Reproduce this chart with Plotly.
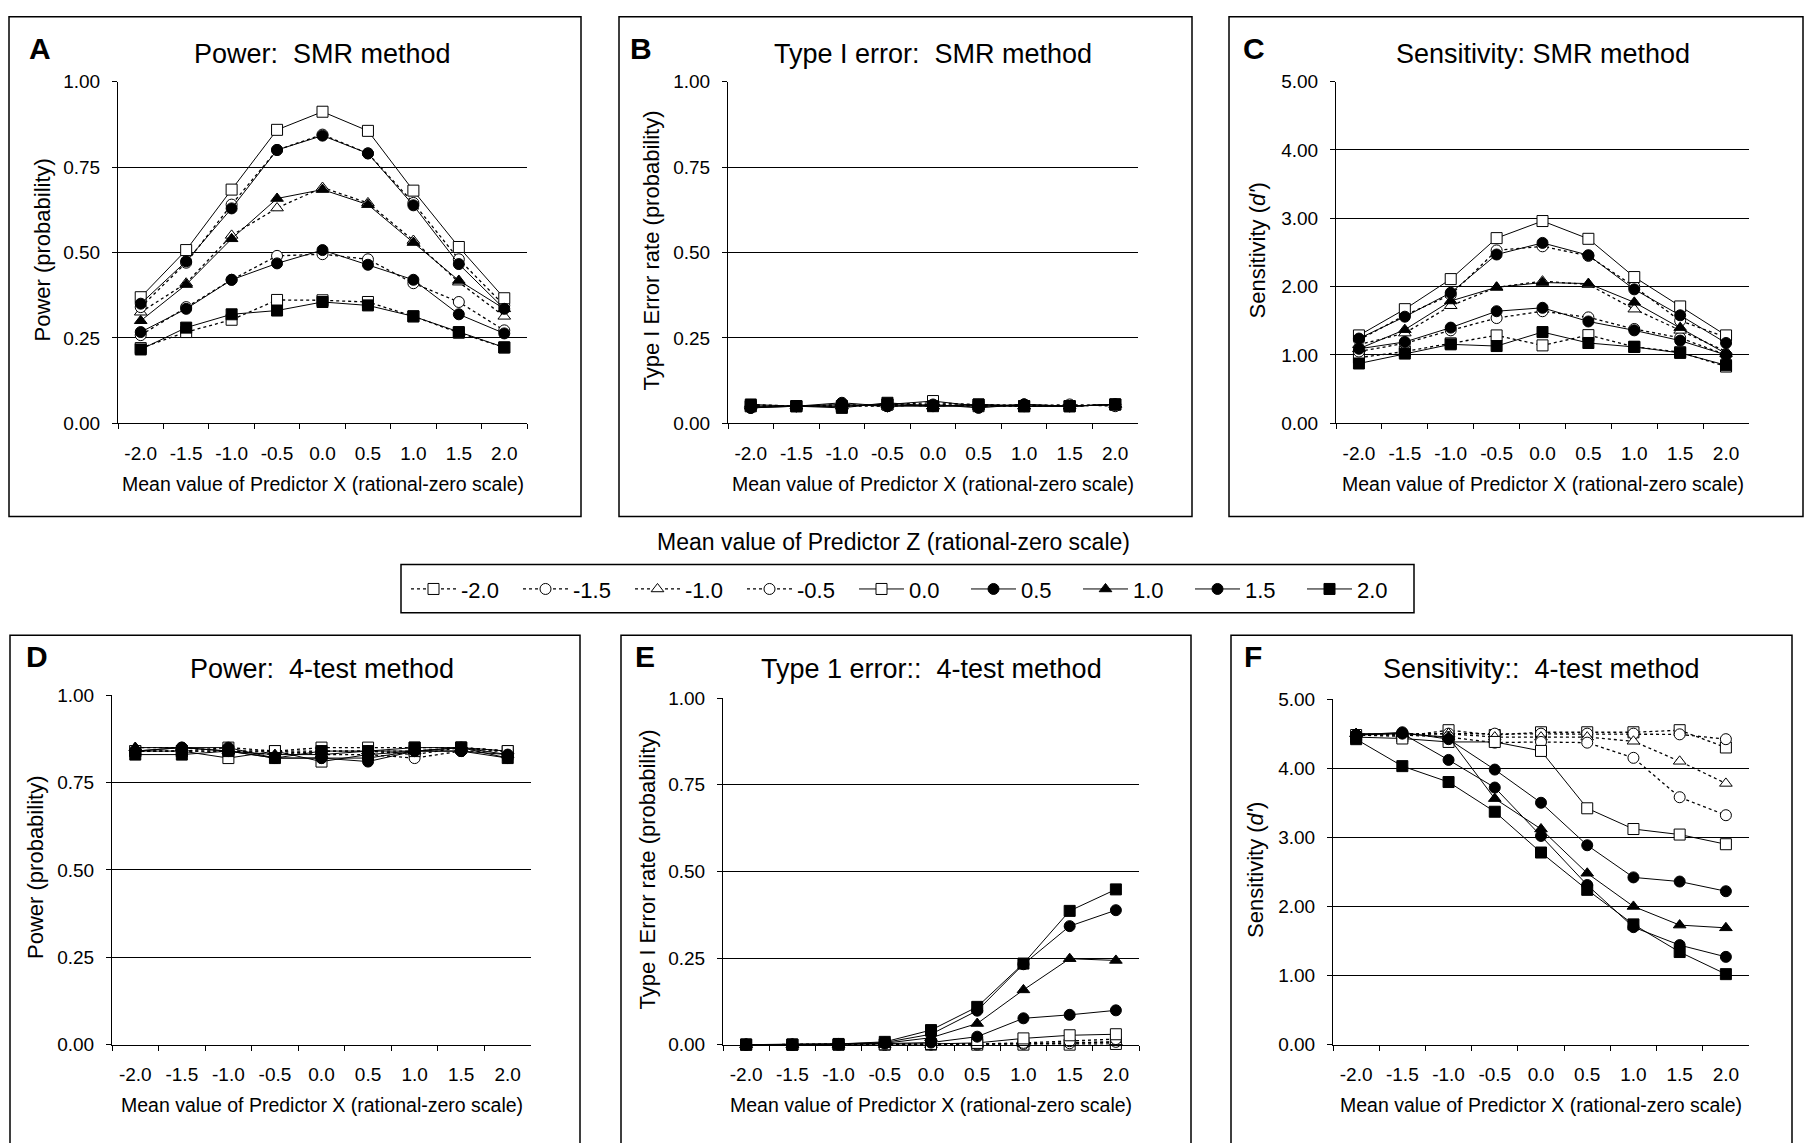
import plotly.graph_objects as go

W, H = 1806, 1143

x_labels = ["-2.0", "-1.5", "-1.0", "-0.5", "0.0", "0.5", "1.0", "1.5", "2.0"]
z_labels = ["-2.0", "-1.5", "-1.0", "-0.5", "0.0", "0.5", "1.0", "1.5", "2.0"]

# Panel A: Power, SMR method (one list per Z value)
power_smr_zm20 = [0.220, 0.267, 0.303, 0.361, 0.360, 0.355, 0.313, 0.265, 0.222]
power_smr_zm15 = [0.258, 0.340, 0.420, 0.490, 0.495, 0.480, 0.410, 0.355, 0.272]
power_smr_zm10 = [0.325, 0.410, 0.550, 0.630, 0.690, 0.645, 0.535, 0.413, 0.313]
power_smr_zm05 = [0.340, 0.470, 0.640, 0.800, 0.845, 0.790, 0.645, 0.480, 0.345]
power_smr_z00 = [0.369, 0.507, 0.684, 0.859, 0.912, 0.856, 0.681, 0.516, 0.366]
power_smr_z05 = [0.350, 0.474, 0.629, 0.800, 0.842, 0.790, 0.638, 0.466, 0.335]
power_smr_z10 = [0.300, 0.406, 0.540, 0.658, 0.684, 0.640, 0.529, 0.418, 0.335]
power_smr_z15 = [0.267, 0.335, 0.420, 0.468, 0.507, 0.464, 0.420, 0.319, 0.263]
power_smr_z20 = [0.216, 0.280, 0.319, 0.330, 0.355, 0.345, 0.313, 0.267, 0.222]

# Panel B: Type I error, SMR method
t1_smr_zm20 = [0.050, 0.050, 0.050, 0.055, 0.060, 0.055, 0.050, 0.050, 0.055]
t1_smr_zm15 = [0.050, 0.050, 0.055, 0.050, 0.055, 0.050, 0.055, 0.050, 0.055]
t1_smr_zm10 = [0.055, 0.050, 0.050, 0.055, 0.050, 0.055, 0.050, 0.050, 0.055]
t1_smr_zm05 = [0.050, 0.050, 0.050, 0.050, 0.055, 0.050, 0.050, 0.055, 0.050]
t1_smr_z00 = [0.050, 0.050, 0.050, 0.055, 0.065, 0.050, 0.050, 0.050, 0.055]
t1_smr_z05 = [0.045, 0.050, 0.055, 0.050, 0.055, 0.045, 0.055, 0.050, 0.055]
t1_smr_z10 = [0.050, 0.050, 0.050, 0.055, 0.050, 0.055, 0.050, 0.050, 0.055]
t1_smr_z15 = [0.045, 0.050, 0.060, 0.050, 0.050, 0.050, 0.055, 0.050, 0.055]
t1_smr_z20 = [0.055, 0.050, 0.045, 0.060, 0.050, 0.055, 0.050, 0.050, 0.055]

# Panel C: Sensitivity, SMR method
sens_smr_zm20 = [0.96, 1.05, 1.17, 1.286, 1.14, 1.29, 1.12, 1.04, 0.83]
sens_smr_zm15 = [1.05, 1.17, 1.36, 1.54, 1.64, 1.55, 1.38, 1.25, 1.00]
sens_smr_zm10 = [1.15, 1.32, 1.72, 1.99, 2.08, 2.03, 1.67, 1.36, 1.05]
sens_smr_zm05 = [1.22, 1.58, 1.88, 2.53, 2.59, 2.45, 2.00, 1.50, 1.26]
sens_smr_z00 = [1.286, 1.67, 2.11, 2.71, 2.96, 2.70, 2.14, 1.71, 1.286]
sens_smr_z05 = [1.24, 1.56, 1.91, 2.47, 2.64, 2.46, 1.96, 1.58, 1.175]
sens_smr_z10 = [1.09, 1.37, 1.79, 1.99, 2.06, 2.045, 1.77, 1.40, 1.02]
sens_smr_z15 = [1.09, 1.19, 1.40, 1.64, 1.69, 1.49, 1.36, 1.21, 1.00]
sens_smr_z20 = [0.875, 1.02, 1.155, 1.13, 1.335, 1.175, 1.117, 1.03, 0.85]

# Panel D: Power, 4-test method
power_4t_zm20 = [0.84, 0.84, 0.85, 0.84, 0.85, 0.85, 0.85, 0.85, 0.84]
power_4t_zm15 = [0.84, 0.84, 0.84, 0.83, 0.84, 0.84, 0.83, 0.85, 0.84]
power_4t_zm10 = [0.85, 0.85, 0.84, 0.84, 0.84, 0.84, 0.84, 0.85, 0.84]
power_4t_zm05 = [0.84, 0.84, 0.84, 0.84, 0.83, 0.83, 0.82, 0.84, 0.84]
power_4t_z00 = [0.84, 0.84, 0.82, 0.84, 0.81, 0.83, 0.84, 0.85, 0.84]
power_4t_z05 = [0.84, 0.85, 0.84, 0.82, 0.82, 0.81, 0.84, 0.84, 0.82]
power_4t_z10 = [0.85, 0.85, 0.84, 0.83, 0.83, 0.84, 0.84, 0.85, 0.83]
power_4t_z15 = [0.84, 0.85, 0.85, 0.82, 0.82, 0.82, 0.84, 0.84, 0.83]
power_4t_z20 = [0.83, 0.83, 0.84, 0.82, 0.84, 0.84, 0.85, 0.85, 0.82]

# Panel E: Type I error, 4-test method
t1_4t_zm20 = [0.000, 0.000, 0.000, 0.000, 0.000, 0.000, 0.000, 0.000, 0.002]
t1_4t_zm15 = [0.000, 0.000, 0.000, 0.000, 0.000, 0.000, 0.002, 0.004, 0.008]
t1_4t_zm10 = [0.000, 0.000, 0.000, 0.000, 0.000, 0.001, 0.003, 0.005, 0.008]
t1_4t_zm05 = [0.000, 0.000, 0.000, 0.000, 0.001, 0.002, 0.005, 0.010, 0.016]
t1_4t_z00 = [0.000, 0.000, 0.000, 0.001, 0.002, 0.005, 0.018, 0.027, 0.030]
t1_4t_z05 = [0.000, 0.000, 0.001, 0.003, 0.006, 0.023, 0.076, 0.086, 0.099]
t1_4t_z10 = [0.000, 0.000, 0.001, 0.004, 0.020, 0.061, 0.158, 0.248, 0.243]
t1_4t_z15 = [0.000, 0.000, 0.002, 0.006, 0.030, 0.098, 0.232, 0.342, 0.388]
t1_4t_z20 = [0.000, 0.000, 0.002, 0.008, 0.042, 0.109, 0.234, 0.386, 0.448]

# Panel F: Sensitivity, 4-test method
sens_4t_zm20 = [4.48, 4.46, 4.55, 4.48, 4.52, 4.52, 4.52, 4.55, 4.30]
sens_4t_zm15 = [4.48, 4.50, 4.50, 4.50, 4.50, 4.50, 4.50, 4.49, 4.42]
sens_4t_zm10 = [4.50, 4.48, 4.50, 4.45, 4.45, 4.45, 4.39, 4.10, 3.78]
sens_4t_zm05 = [4.48, 4.48, 4.45, 4.37, 4.38, 4.37, 4.15, 3.58, 3.32]
sens_4t_z00 = [4.45, 4.43, 4.38, 4.38, 4.25, 3.42, 3.12, 3.04, 2.90]
sens_4t_z05 = [4.48, 4.52, 4.42, 3.98, 3.50, 2.885, 2.42, 2.36, 2.22]
sens_4t_z10 = [4.50, 4.50, 4.45, 3.56, 3.12, 2.48, 2.00, 1.73, 1.69]
sens_4t_z15 = [4.48, 4.50, 4.12, 3.72, 3.02, 2.31, 1.70, 1.44, 1.27]
sens_4t_z20 = [4.42, 4.03, 3.80, 3.37, 2.78, 2.24, 1.74, 1.34, 1.02]

panels = [
    dict(data=[power_smr_zm20, power_smr_zm15, power_smr_zm10, power_smr_zm05, power_smr_z00,
               power_smr_z05, power_smr_z10, power_smr_z15, power_smr_z20],
         title="Power:  SMR method", letter="A", ytitle="Power (probability)", ymax=1.0, dtick=0.25),
    dict(data=[t1_smr_zm20, t1_smr_zm15, t1_smr_zm10, t1_smr_zm05, t1_smr_z00,
               t1_smr_z05, t1_smr_z10, t1_smr_z15, t1_smr_z20],
         title="Type I error:  SMR method", letter="B", ytitle="Type I Error rate (probability)", ymax=1.0, dtick=0.25),
    dict(data=[sens_smr_zm20, sens_smr_zm15, sens_smr_zm10, sens_smr_zm05, sens_smr_z00,
               sens_smr_z05, sens_smr_z10, sens_smr_z15, sens_smr_z20],
         title="Sensitivity: SMR method", letter="C", ytitle="Sensitivity (<i>d'</i>)", ymax=5.0, dtick=1.0),
    dict(data=[power_4t_zm20, power_4t_zm15, power_4t_zm10, power_4t_zm05, power_4t_z00,
               power_4t_z05, power_4t_z10, power_4t_z15, power_4t_z20],
         title="Power:  4-test method", letter="D", ytitle="Power (probability)", ymax=1.0, dtick=0.25),
    dict(data=[t1_4t_zm20, t1_4t_zm15, t1_4t_zm10, t1_4t_zm05, t1_4t_z00,
               t1_4t_z05, t1_4t_z10, t1_4t_z15, t1_4t_z20],
         title="Type 1 error::  4-test method", letter="E", ytitle="Type I Error rate (probability)", ymax=1.0, dtick=0.25),
    dict(data=[sens_4t_zm20, sens_4t_zm15, sens_4t_zm10, sens_4t_zm05, sens_4t_z00,
               sens_4t_z05, sens_4t_z10, sens_4t_z15, sens_4t_z20],
         title="Sensitivity::  4-test method", letter="F", ytitle="Sensitivity (<i>d'</i>)", ymax=5.0, dtick=1.0),
]

# Styles per Z series
symbols = ["square", "circle", "triangle-up", "circle", "square", "circle", "triangle-up", "circle", "square"]
filled = [False, False, False, False, False, True, True, True, True]
dashes = ["dot", "dot", "dot", "dot", "solid", "solid", "solid", "solid", "solid"]

# Layout geometry in pixels
geo = [
    dict(plot=(118, 527, 73, 421), box=(9, 581, 7, 516), letter=(40, 39), ytx=42, title_y=45, xtl_y=483),
    dict(plot=(728, 1138, 73, 421), box=(619, 1192, 7, 516), letter=(641, 39), ytx=651, title_y=45, xtl_y=483),
    dict(plot=(1336, 1749, 73, 421), box=(1229, 1803, 7, 516), letter=(1254, 39), ytx=1257, title_y=45, xtl_y=483),
    dict(plot=(112, 531, 698, 1054), box=(10, 580, 637, 1175), letter=(37, 659), ytx=36, title_y=671, xtl_y=1116),
    dict(plot=(723, 1139, 701, 1054), box=(621, 1191, 637, 1175), letter=(645, 659), ytx=647, title_y=671, xtl_y=1116),
    dict(plot=(1333, 1749, 702, 1054), box=(1231, 1792, 637, 1175), letter=(1253, 659), ytx=1256, title_y=671, xtl_y=1116),
]

FONT = "Arial, Liberation Sans, Helvetica, sans-serif"


def px(x):
    return x / W


def py(y):
    return 1 - y / H


fig = go.Figure()
layout = dict(width=W, height=H, margin=dict(l=0, r=0, t=0, b=0),
              paper_bgcolor="white", plot_bgcolor="white",
              font=dict(family=FONT, color="black", size=19),
              showlegend=True, shapes=[], annotations=[])

for i, (p, g) in enumerate(zip(panels, geo)):
    n = i + 1
    xa = "x" if n == 1 else f"x{n}"
    ya = "y" if n == 1 else f"y{n}"
    for j, vals in enumerate(p["data"]):
        fig.add_trace(go.Scatter(
            x=x_labels, y=vals, xaxis=xa, yaxis=ya, mode="lines+markers",
            name=z_labels[j], legendgroup=z_labels[j], showlegend=(i == 0),
            line=dict(color="black", width=1.3 if dashes[j] == "dot" else 1, dash=dashes[j]),
            marker=dict(symbol=symbols[j], size=11,
                        color="black" if filled[j] else "white",
                        line=dict(color="black", width=1)),
            cliponaxis=False,
        ))
    x0, x1, yt, yb = g["plot"]
    layout[f"xaxis{'' if n == 1 else n}"] = dict(
        domain=[px(x0), px(x1)], anchor=ya, type="category",
        categoryorder="array", categoryarray=x_labels, range=[-0.5, 8.5],
        tickson="boundaries", ticks="outside", ticklen=5, tickcolor="black",
        ticklabelstandoff=13,
        showline=True, linecolor="black", linewidth=1, showgrid=False, zeroline=False,
        tickfont=dict(size=19, family=FONT), fixedrange=True)
    layout[f"yaxis{'' if n == 1 else n}"] = dict(
        domain=[py(yb), py(yt)], anchor=xa, range=[0, p["ymax"]], dtick=p["dtick"],
        tick0=0, tickformat=".2f", ticks="outside", ticklen=5, tickcolor="black",
        ticklabelstandoff=8,
        showline=True, linecolor="black", linewidth=1,
        showgrid=True, gridcolor="black", gridwidth=1, zeroline=False,
        tickfont=dict(size=19, family=FONT), fixedrange=True)
    bx0, bx1, by0, by1 = g["box"]
    layout["shapes"].append(dict(type="rect", xref="paper", yref="paper",
                                 x0=px(bx0), x1=px(bx1), y0=py(by1), y1=py(by0),
                                 line=dict(color="black", width=1.5), fillcolor="rgba(0,0,0,0)"))
    cx = (x0 + x1) / 2
    layout["annotations"].append(dict(text=p["title"], x=px(cx), y=py(g["title_y"]),
                                      xref="paper", yref="paper", showarrow=False,
                                      xanchor="center", yanchor="middle",
                                      font=dict(size=27, family=FONT)))
    layout["annotations"].append(dict(text=f"<b>{p['letter']}</b>", x=px(g["letter"][0]), y=py(g["letter"][1]),
                                      xref="paper", yref="paper", showarrow=False,
                                      xanchor="center", yanchor="middle",
                                      font=dict(size=30, family=FONT)))
    layout["annotations"].append(dict(text="Mean value of Predictor X (rational-zero scale)",
                                      x=px(cx), y=py(g["xtl_y"]), xref="paper", yref="paper",
                                      showarrow=False, xanchor="center", yanchor="middle",
                                      font=dict(size=19.5, family=FONT)))
    layout["annotations"].append(dict(text=p["ytitle"], x=px(g["ytx"]), y=py((yt + yb) / 2 - 2),
                                      xref="paper", yref="paper", showarrow=False, textangle=-90,
                                      xanchor="center", yanchor="middle",
                                      font=dict(size=22, family=FONT)))

# Legend title and frame
layout["annotations"].append(dict(text="Mean value of Predictor Z (rational-zero scale)",
                                  x=px(893), y=py(542), xref="paper", yref="paper", showarrow=False,
                                  xanchor="center", yanchor="middle", font=dict(size=23, family=FONT)))
layout["shapes"].append(dict(type="rect", xref="paper", yref="paper",
                             x0=px(401), x1=px(1414), y0=py(614), y1=py(565),
                             line=dict(color="black", width=1.5), fillcolor="rgba(0,0,0,0)"))

layout["legend"] = dict(orientation="h", x=px(406), xanchor="left", y=py(590), yanchor="middle",
                        borderwidth=0, bgcolor="rgba(0,0,0,0)", itemwidth=45,
                        font=dict(size=22, family=FONT), entrywidth=52, entrywidthmode="pixels",
                        itemclick=False, itemdoubleclick=False, traceorder="normal")

fig.update_layout(**layout)
fig.write_html("out.html", config={"displayModeBar": False},
               post_script="document.body.style.margin='0px';document.body.style.padding='0px';")
